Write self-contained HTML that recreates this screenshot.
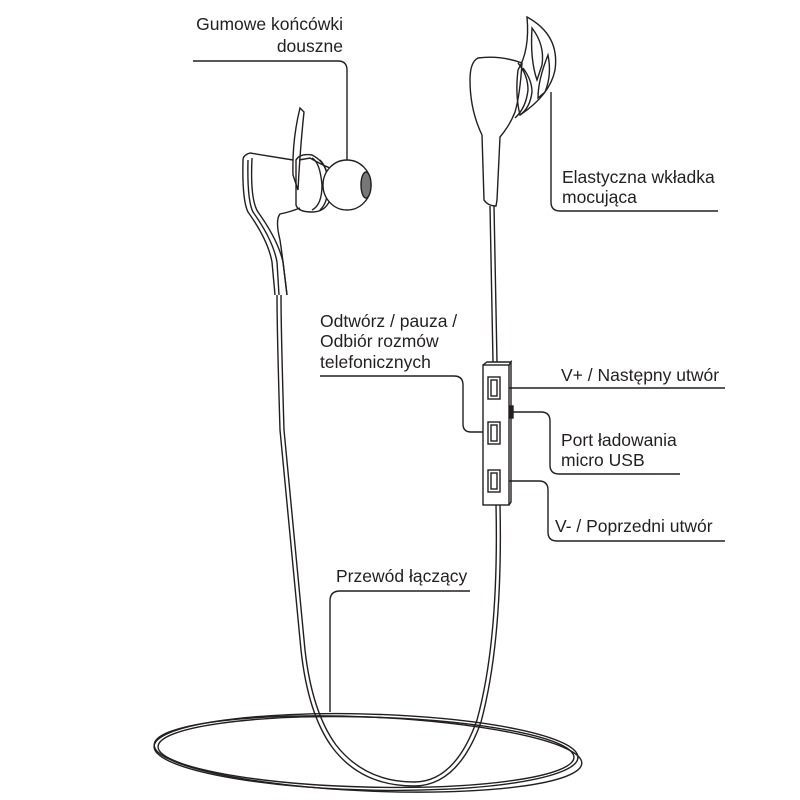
<!DOCTYPE html>
<html><head><meta charset="utf-8"><style>
html,body{margin:0;padding:0;background:#fff;width:800px;height:800px;overflow:hidden}
svg{display:block}
text{font-family:"Liberation Sans",Arial,sans-serif;font-size:17.5px;fill:#231f20}
</style></head><body>
<svg width="800" height="800" viewBox="0 0 800 800" fill="none" stroke="#231f20" stroke-width="1.4">
<!-- Labels -->
<text x="343" y="30" text-anchor="end" stroke="none">Gumowe końcówki</text>
<text x="343" y="52" text-anchor="end" stroke="none">douszne</text>
<path d="M193 61 H338 Q347 61 347 70 V170"/>

<text x="562" y="183" stroke="none">Elastyczna wkładka</text>
<text x="562" y="203" stroke="none">mocująca</text>
<path d="M551 92 V202 Q551 211 560 211 H718"/>

<text x="320" y="327" stroke="none">Odtwórz / pauza /</text>
<text x="320" y="347" stroke="none">Odbiór rozmów</text>
<text x="320" y="368" stroke="none">telefonicznych</text>
<path d="M320 376 H454 Q463 376 463 385 V424 Q463 432 471 432 H494"/>

<text x="561" y="381" stroke="none">V+ / Następny utwór</text>
<path d="M496 388 H725"/>

<text x="561" y="446" stroke="none">Port ładowania</text>
<text x="561" y="466" stroke="none">micro USB</text>
<path d="M512 412 H541 Q550 412 550 421 V465 Q550 474 559 474 H680"/>

<text x="555" y="532" stroke="none">V- / Poprzedni utwór</text>
<path d="M496 481 H539 Q548 481 548 490 V532 Q548 541 557 541 H725"/>

<text x="336" y="582" stroke="none">Przewód łączący</text>
<path d="M470 591 H340 Q330 591 330 601 V712"/>

<!-- Left earphone -->
<path d="M300 108 Q292 140 293 175 L298 190 Q300 150 304 112 Z"/>
<path d="M243 160 Q243 155 250 153 L293 160 M299 160 L310 158 Q322 165 330 168"/>
<path d="M243 160 Q242 200 248 212 Q268 240 272 262 L275 295 M248 160 Q247 200 253 212 Q273 240 277 262 L279 295 M252 158 Q250 200 258 212 Q278 240 283 262 L287 295"/>
<path d="M287 295 Q283 260 280 240 Q275 220 280 214 Q290 212 300 208"/>
<path d="M296 160 Q300 153 312 155 Q322 160 326 170 L330 200 Q325 212 312 212 Q298 212 296 205 Z"/>
<path d="M312 158 Q320 162 322 185 Q322 205 312 210 M320 160 Q328 168 328 185 Q328 203 320 210"/>
<ellipse cx="347" cy="185" rx="24" ry="25" fill="#fff"/>
<ellipse cx="366" cy="185" rx="5" ry="13" fill="#777"/>

<!-- Right earphone -->
<path d="M527 17 Q560 35 555 70 Q550 95 520 115 Q515 95 518 70 Q530 50 527 17 Z"/>
<path d="M532 28 Q545 45 542 65 L537 80 Q530 60 532 28 Z M548 55 Q552 75 545 92 L538 98 Q538 80 548 55 Z"/>
<path d="M478 58 Q470 62 470 80 Q470 110 482 135 L484 200 Q488 206 496 206 L497 200 L500 137 Q510 125 515 112 Q520 95 522 63 Q500 55 478 58 Z"/>
<path d="M518 63 Q528 75 528 90 Q526 108 515 118 M523 68 Q532 80 532 92 Q530 108 520 115"/>

<!-- Cables -->
<path d="M490 206 L493 362 M494 206 L497 362"/>
<path d="M496 505 Q499 640 477 720 Q455 782 414 782 Q365 782 336 745 Q312 712 305 650 L284 430 Q281 330 281 295"/>
<path d="M500 505 Q503 640 481 722 Q458 786 414 786 Q361 786 332 747 Q308 714 301 650 L280 430 Q277 330 277 295"/>
<ellipse cx="366" cy="752" rx="212" ry="38" transform="rotate(1.5 366 752)"/>
<ellipse cx="366" cy="752" rx="208" ry="35" transform="rotate(1.5 366 752)"/>
<ellipse cx="368" cy="754" rx="214" ry="37" transform="rotate(2.5 368 754)"/>

<!-- Remote -->
<rect x="483" y="365" width="26" height="140" fill="#fff"/>
<path d="M483 365 L487 362 L511 362 L509 365 M509 365 L511 362 V502 L509 505"/>
<rect x="488" y="377" width="12" height="22"/>
<rect x="491" y="380" width="6" height="16"/>
<rect x="488" y="422" width="12" height="22"/>
<rect x="491" y="425" width="6" height="16"/>
<rect x="488" y="470" width="12" height="22"/>
<rect x="491" y="473" width="6" height="16"/>
<rect x="510" y="406" width="3" height="12" fill="#231f20"/>
</svg>
</body></html>
